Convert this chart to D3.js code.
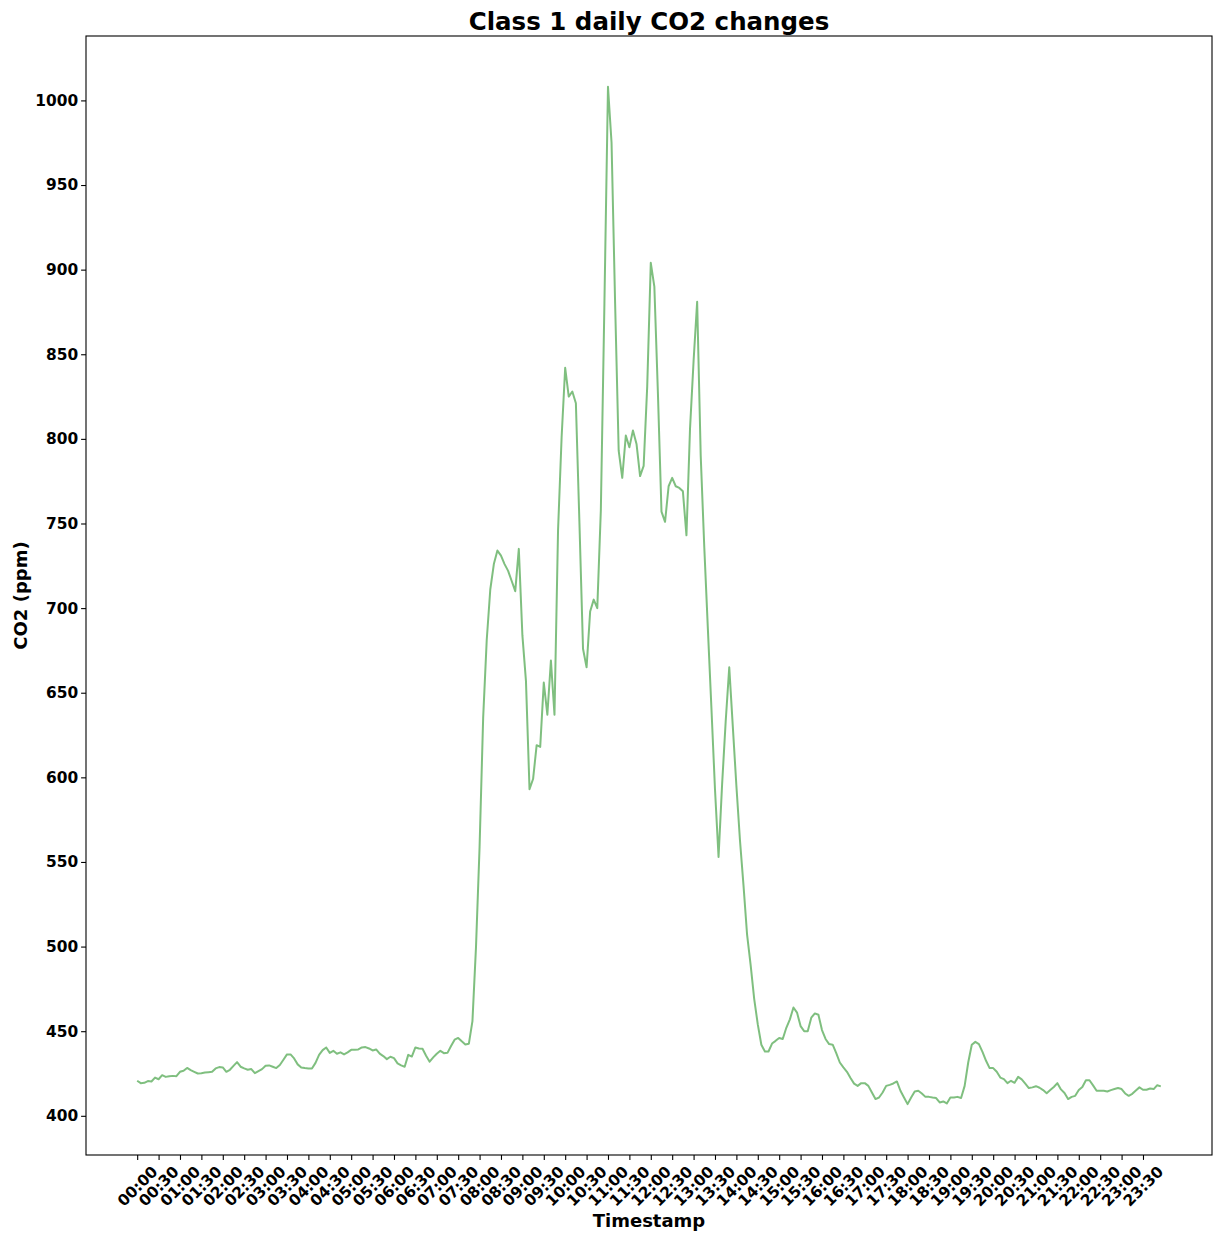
<!DOCTYPE html>
<html>
<head>
<meta charset="utf-8">
<script src="https://cdn.jsdelivr.net/npm/d3@7"></script>
<style>
body { margin: 0; background: #fff; }
text { font-family: "DejaVu Sans", sans-serif; font-weight: bold; }
</style>
</head>
<body>
<svg id="chart" width="1213" height="1233"></svg>
<script>
// tick labels every 30 min
const tickLabels = ["00:00","00:30","01:00","01:30","02:00","02:30","03:00","03:30","04:00","04:30","05:00","05:30",
  "06:00","06:30","07:00","07:30","08:00","08:30","09:00","09:30","10:00","10:30","11:00","11:30",
  "12:00","12:30","13:00","13:30","14:00","14:30","15:00","15:30","16:00","16:30","17:00","17:30",
  "18:00","18:30","19:00","19:30","20:00","20:30","21:00","21:30","22:00","22:30","23:00","23:30"]
const yTickValues = [400, 450, 500, 550, 600, 650, 700, 750, 800, 850, 900, 950, 1000]
const pointsPerTick = 6 // one reading every 5 minutes

// CO2 readings (ppm), 5 minute steps from 00:00 to 23:55
const co2 = [
  420.7,419.3,419.5,420.5,420.3,422.6,421.6,424,423,423.4,423.6,423.4,
  426,426.6,428.3,427,426,425,425.2,425.6,425.8,426,428,428.8,
  428.6,426,427.2,429.5,431.7,429,428,427.2,427.6,425.2,426.4,427.6,
  429.6,429.8,429,428.2,430,433.1,436.3,436.3,433.9,430.4,428.6,428.2,
  428,428,431.3,436,438.8,440.4,437.2,438.4,436.7,437.5,436.3,437.5,
  439,439,439.2,440.4,440.6,439.8,438.6,439.2,436.7,435.3,433.5,434.9,
  434.1,431,429.8,429,436,435,440.4,439.8,439.6,435.5,432,434.5,
  436.7,438.4,437,437.2,441.2,445,446,444,442.2,442.6,456,500,
  559,635,681,711,726,734,731,726,722,716,710,735,
  684,657,593,599,619,618,656,637,669,637,746,801,
  842,825,828,821,750,676,665,698,705,700,758,880,
  1008,975,880,793,777,802,795,805,797,778,784,831,
  904,890,827,757,751,772,777,772,771,769,743,806,
  846,881,790,736,688,641,593,553,596,633,665,630,
  595,563,536,507,489,469,454,442,438,438,442.7,444.3,
  446,445.4,452,457,464,461,453,450,450,458,460.5,459.7,
  450.7,445.4,442.4,442,437,431.5,428.6,426,422.3,419,417.7,419.3,
  419.3,417.7,413.8,409.9,410.8,413.8,417.7,418.3,419.1,420.3,414.8,410.8,
  406.9,410.8,414.4,414.8,413.2,411.2,411.2,410.8,410.5,407.9,408.5,407.3,
  410.8,410.8,411.2,410.5,417.7,431.5,442,443.7,442.4,437.8,432.5,428.2,
  428.2,426,422.6,421.7,419.3,420.7,419.5,423,421.5,419,416.4,416.8,
  417.5,416.6,415.2,413.4,415.2,417,419.3,415.6,413.5,409.9,411.2,411.8,
  415.2,417,421,421,418,414.8,414.8,414.8,414.4,415.2,415.8,416.4,
  415.8,413.2,411.8,413,415,416.8,415.4,415.4,416.1,415.8,418.1,417.4
]

const svg = d3.select('#chart')
const lineColor = 'green'
const tickFont = 15.4

// plot area
const plotLeft = 86, plotRight = 1212, plotTop = 36, plotBottom = 1155
const tickLen = 4.9, tickPad = 4.9

// scales with matplotlib style 5% margins
const n = co2.length
const xMargin = (n - 1) * 0.05
const xScale = d3.scaleLinear()
  .domain([-xMargin, n - 1 + xMargin])
  .range([plotLeft, plotRight])

const yMin = d3.min(co2), yMax = d3.max(co2)
const yMargin = (yMax - yMin) * 0.05
const yScale = d3.scaleLinear()
  .domain([yMin - yMargin, yMax + yMargin])
  .range([plotBottom, plotTop])

// y axis
const yAxis = d3.axisLeft(yScale)
  .tickValues(yTickValues)
  .tickFormat(d3.format('d'))
  .tickSize(tickLen)
  .tickPadding(3)

const yG = svg.append('g')
  .attr('transform', `translate(${plotLeft}, 0)`)
  .call(yAxis)

// x axis
const xAxis = d3.axisBottom(xScale)
  .tickValues(tickLabels.map((d, i) => i * pointsPerTick))
  .tickFormat((d, i) => tickLabels[i])
  .tickSize(tickLen)

const xG = svg.append('g')
  .attr('transform', `translate(0, ${plotBottom})`)
  .call(xAxis)

svg.selectAll('path.domain').remove()
svg.selectAll('.tick line').style('stroke', '#000').style('stroke-width', 1.1)
svg.selectAll('g.tick text')
  .style('font-size', tickFont + 'px')
  .style('fill', '#000')
yG.attr('font-family', null).attr('font-size', null)
xG.attr('font-family', null).attr('font-size', null)

// rotate x labels 45 deg, centred on the tick like matplotlib
xG.selectAll('.tick text').each(function () {
  const t = d3.select(this)
  const w = this.getComputedTextLength()
  const h = tickFont * 1.17
  const boxH = (w + h) * Math.SQRT1_2
  t.attr('y', 0).attr('dy', null)
    .attr('text-anchor', 'middle')
    .attr('dominant-baseline', 'central')
    .attr('transform', `translate(0, ${tickLen + tickPad - 2 + boxH / 2}) rotate(-45)`)
})

// the line
const line = d3.line()
  .x((d, i) => xScale(i))
  .y(d => yScale(d))

svg.append('path')
  .datum(co2)
  .attr('d', line)
  .attr('fill', 'none')
  .attr('stroke', lineColor)
  .attr('stroke-opacity', 0.5)
  .attr('stroke-width', 2)
  .attr('stroke-linejoin', 'round')

// frame
svg.append('rect')
  .attr('x', plotLeft).attr('y', plotTop)
  .attr('width', plotRight - plotLeft).attr('height', plotBottom - plotTop)
  .attr('fill', 'none')
  .attr('stroke', '#000')
  .attr('stroke-width', 1.1)

// title and axis labels
svg.append('text')
  .attr('x', (plotLeft + plotRight) / 2).attr('y', 30)
  .attr('text-anchor', 'middle')
  .style('font-size', '24.5px')
  .text('Class 1 daily CO2 changes')

svg.append('text')
  .attr('transform', `translate(27, ${(plotTop + plotBottom) / 2}) rotate(-90)`)
  .attr('text-anchor', 'middle')
  .style('font-size', '18px')
  .text('CO2 (ppm)')

svg.append('text')
  .attr('x', (plotLeft + plotRight) / 2).attr('y', 1227)
  .attr('text-anchor', 'middle')
  .style('font-size', '18px')
  .text('Timestamp')
</script>
</body>
</html>
